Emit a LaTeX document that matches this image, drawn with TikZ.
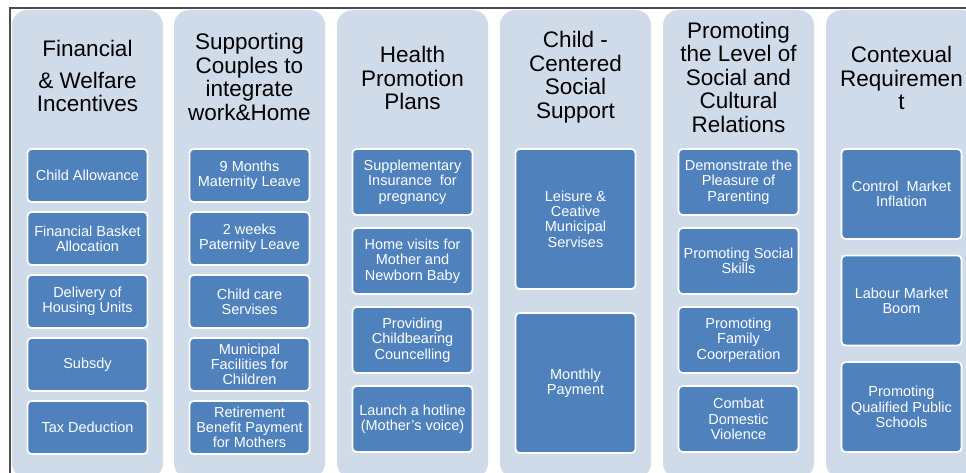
\documentclass[tikz,border=0pt]{standalone}
\usepackage{fontspec}
\setmainfont{Liberation Sans}
\usepackage{xcolor}
\usepackage{tikz}
\usetikzlibrary{positioning}
\definecolor{panelgrey}{RGB}{208,219,234}
\definecolor{itemblue}{RGB}{79,129,189}
\definecolor{rulegrey}{RGB}{75,75,80}

\begin{document}
\begin{tikzpicture}[
        x=1pt, y=-1pt,
        node distance=10pt,
        panel/.style={rectangle, rounded corners=15pt, fill=panelgrey, anchor=north,
            minimum width=151pt, minimum height=468pt, inner sep=0pt},
        heading/.style={align=center, text=black,
            font=\fontsize{22.5}{23.5}\selectfont},
        item/.style={rectangle, rounded corners=4pt, fill=itemblue, draw=white,
            line width=1.8pt, text=white,
            minimum width=120pt,
            minimum height=#1,
            inner sep=1pt, outer sep=0pt, align=center,
            font=\fontsize{14.5}{15.3}\selectfont},
        item/.default=53pt
    ]
        \useasboundingbox (0,0) rectangle (966,473);
        \clip (0,0) rectangle (966,473);

        % outer frame
        \draw[rulegrey, line width=1.4pt] (10,473) -- (10,8) -- (966,8);

        % panels
        \node[panel] (p1) at (87.5,10) {};
        \node[panel] (p2) at (249.5,10) {};
        \node[panel] (p3) at (412.5,10) {};
        \node[panel] (p4) at (575.5,10) {};
        \node[panel] (p5) at (738.5,10) {};
        \node[panel] (p6) at (901.5,10) {};

        % headings
        \node[heading] (h1) at (87.5,76) {Financial\\[8pt]\& Welfare\\Incentives};
        \node[heading] (h2) at (249.5,77) {Supporting\\Couples to\\integrate\\work\&Home};
        \node[heading] (h3) at (412.5,78) {Health\\Promotion\\Plans};
        \node[heading] (h4) at (575.5,77) {Child -\\Centered\\Social\\Support};
        \node[heading] (h5) at (738.5,77) {Promoting\\the Level of\\Social and\\Cultural\\Relations};
        \node[heading] (h6) at (901.5,78) {Contexual\\Requiremen\\t};

        % financial column
        \node[item, anchor=north] (a1) at (87.5,149) {Child Allowance};
        \node[item, below=of a1] (a2) {Financial Basket\\Allocation};
        \node[item, below=of a2] (a3) {Delivery of\\Housing Units};
        \node[item, below=of a3] (a4) {Subsdy};
        \node[item, below=of a4] (a5) {Tax Deduction};

        % couples column
        \node[item, anchor=north] (b1) at (249.5,149) {9 Months\\Maternity Leave};
        \node[item, below=of b1] (b2) {2 weeks\\Paternity Leave};
        \node[item, below=of b2] (b3) {Child care\\Servises};
        \node[item, below=of b3] (b4) {Municipal\\Facilities for\\Children};
        \node[item, below=of b4] (b5) {Retirement\\Benefit Payment\\for Mothers};

        % health column
        \node[item=66pt, anchor=north] (c1) at (412.5,149) {Supplementary\\Insurance\ \ for\\pregnancy};
        \node[item=66pt, below=13pt of c1] (c2) {Home visits for\\Mother and\\Newborn Baby};
        \node[item=66pt, below=13pt of c2] (c3) {Providing\\Childbearing\\Councelling};
        \node[item=66pt, below=13pt of c3] (c4) {Launch a hotline\\(Mother's voice)};

        % child column
        \node[item=140pt, anchor=north] (d1) at (575.5,149) {Leisure \&\\Ceative\\Municipal\\Servises};
        \node[item=140pt, below=24pt of d1] (d2) {Monthly\\Payment};

        % social column
        \node[item=66pt, anchor=north] (e1) at (738.5,149) {Demonstrate the\\Pleasure of\\Parenting};
        \node[item=66pt, below=13pt of e1] (e2) {Promoting Social\\Skills};
        \node[item=66pt, below=13pt of e2] (e3) {Promoting\\Family\\Coorperation};
        \node[item=66pt, below=13pt of e3] (e4) {Combat\\Domestic\\Violence};

        % context column
        \node[item=90pt, anchor=north] (f1) at (901.5,149) {Control\ \ Market\\Inflation};
        \node[item=90pt, below=16.5pt of f1] (f2) {Labour Market\\Boom};
        \node[item=90pt, below=16.5pt of f2] (f3) {Promoting\\Qualified Public\\Schools};
    \end{tikzpicture}
\end{document}
